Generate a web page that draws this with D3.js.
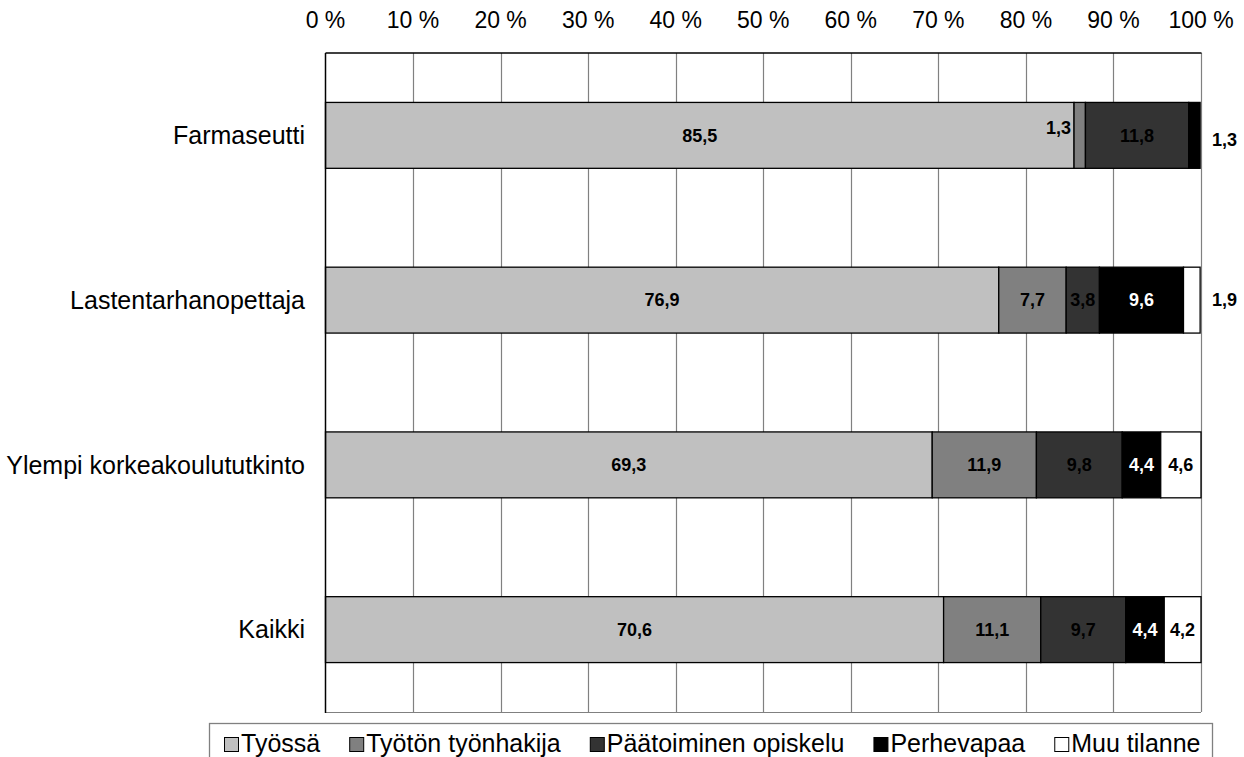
<!DOCTYPE html>
<html>
<head>
<meta charset="utf-8">
<script src="https://cdn.jsdelivr.net/npm/d3@7"></script>
<style>
  html, body { margin: 0; padding: 0; background: #fff; }
  svg { display: block; font-family: "Liberation Sans", Arial, sans-serif; }
</style>
</head>
<body>
<svg id="chart" width="1244" height="757"></svg>
<script>
// ---- data ----
const categories = ["Farmaseutti", "Lastentarhanopettaja", "Ylempi korkeakoulututkinto", "Kaikki"];
const seriesNames = ["Työssä", "Työtön työnhakija", "Päätoiminen opiskelu", "Perhevapaa", "Muu tilanne"];
const tyossa      = [85.5, 76.9, 69.3, 70.6];
const tyoton      = [1.3, 7.7, 11.9, 11.1];
const opiskelu    = [11.8, 3.8, 9.8, 9.7];
const perhevapaa  = [1.3, 9.6, 4.4, 4.4];
const muu         = [0, 1.9, 4.6, 4.2];
const tickValues  = [0, 10, 20, 30, 40, 50, 60, 70, 80, 90, 100];
const tickLabels  = ["0 %", "10 %", "20 %", "30 %", "40 %", "50 %", "60 %", "70 %", "80 %", "90 %", "100 %"];

const seriesValues = [tyossa, tyoton, opiskelu, perhevapaa, muu];
const colors = ["#c0c0c0", "#808080", "#333333", "#000000", "#ffffff"];
const labelColors = ["#000", "#000", "#000", "#fff", "#000"];

// ---- layout ----
const svg = d3.select("#chart");
const pL = 325.5, pR = 1201, pT = 53, pB = 712;

const x = d3.scaleLinear().domain([0, 100]).range([pL, pR]);
const y = d3.scaleBand().domain(categories).range([pT, pB]).paddingInner(0.6).paddingOuter(0.3);

// rows for stacking
const rows = categories.map((c, i) => {
  const r = { cat: c };
  seriesNames.forEach((s, j) => r[s] = seriesValues[j][i]);
  return r;
});
const stack = d3.stack().keys(seriesNames)(rows);

// gridlines
const grid = svg.append("g");
grid.selectAll("line.g").data(tickValues.slice(1)).join("line")
  .attr("x1", d => Math.round(x(d)) + 0.5).attr("x2", d => Math.round(x(d)) + 0.5)
  .attr("y1", pT).attr("y2", pB)
  .attr("stroke", "#808080").attr("stroke-width", 1.2);
grid.append("line").attr("x1", pL).attr("x2", pR).attr("y1", pB + 0.5).attr("y2", pB + 0.5)
  .attr("stroke", "#808080").attr("stroke-width", 1.2);

// top axis labels
svg.append("g").selectAll("text").data(tickValues).join("text")
  .attr("x", d => x(d)).attr("y", 28)
  .attr("text-anchor", "middle")
  .attr("font-size", 23).attr("fill", "#000")
  .text((d, i) => tickLabels[i]);

// bars
const bars = svg.append("g");
stack.forEach((layer, j) => {
  bars.append("g").selectAll("rect").data(layer.filter(d => d[1] - d[0] > 0)).join("rect")
    .attr("x", d => x(d[0]))
    .attr("width", d => x(d[1]) - x(d[0]))
    .attr("y", d => y(d.data.cat))
    .attr("height", y.bandwidth())
    .attr("fill", colors[j])
    .attr("stroke", "#000").attr("stroke-width", 1.3);
});

// axis lines (left & top black)
svg.append("line").attr("x1", pL).attr("x2", pL).attr("y1", pT).attr("y2", pB + 1)
  .attr("stroke", "#000").attr("stroke-width", 1.5);
svg.append("line").attr("x1", pL).attr("x2", pR + 0.5).attr("y1", pT).attr("y2", pT)
  .attr("stroke", "#000").attr("stroke-width", 1.3);

// category labels
svg.append("g").selectAll("text").data(categories).join("text")
  .attr("x", 305).attr("y", d => y(d) + y.bandwidth() / 2)
  .attr("dy", "0.35em").attr("text-anchor", "end")
  .attr("font-size", 25).attr("fill", "#000")
  .text(d => d);

// data labels
const fmt = v => v.toFixed(1).replace(".", ",");
const lbl = svg.append("g").attr("font-weight", "bold").attr("font-size", 18);
categories.forEach((c, i) => {
  const nonzero = seriesNames.map((s, j) => j).filter(j => seriesValues[j][i] > 0);
  const lastJ = nonzero[nonzero.length - 1];
  nonzero.forEach(j => {
    const seg = stack[j][i];
    const v = seriesValues[j][i];
    const cy = y(c) + y.bandwidth() / 2;
    let tx, ty = cy, anchor = "middle", fill = labelColors[j];
    if (v < 2.5 && j === lastJ) {
      tx = pR + 11; anchor = "start"; fill = "#000";
      ty = cy + (j === 3 ? 4 : 0);
    } else if (v < 2.5) {
      tx = x(seg[0]) - 3; anchor = "end"; fill = "#000"; ty = cy - 8;
    } else {
      tx = (x(seg[0]) + x(seg[1])) / 2;
    }
    lbl.append("text").attr("x", tx).attr("y", ty).attr("dy", "0.35em")
      .attr("text-anchor", anchor).attr("fill", fill).text(fmt(v));
  });
});

// legend
const lg = svg.append("g");
lg.append("rect").attr("x", 209.5).attr("y", 723.5).attr("width", 1003).attr("height", 60)
  .attr("fill", "#fff").attr("stroke", "#808080").attr("stroke-width", 1.3);
let lx = 224;
seriesNames.forEach((s, j) => {
  lg.append("rect").attr("x", lx + 0.5).attr("y", 737.5).attr("width", 14).attr("height", 14)
    .attr("fill", colors[j]).attr("stroke", "#000").attr("stroke-width", 1);
  const t = lg.append("text").attr("x", lx + 17).attr("y", 752)
    .attr("font-size", 25).attr("fill", "#000").text(s);
  lx += 17 + t.node().getComputedTextLength() + 29;
});
</script>
</body>
</html>
